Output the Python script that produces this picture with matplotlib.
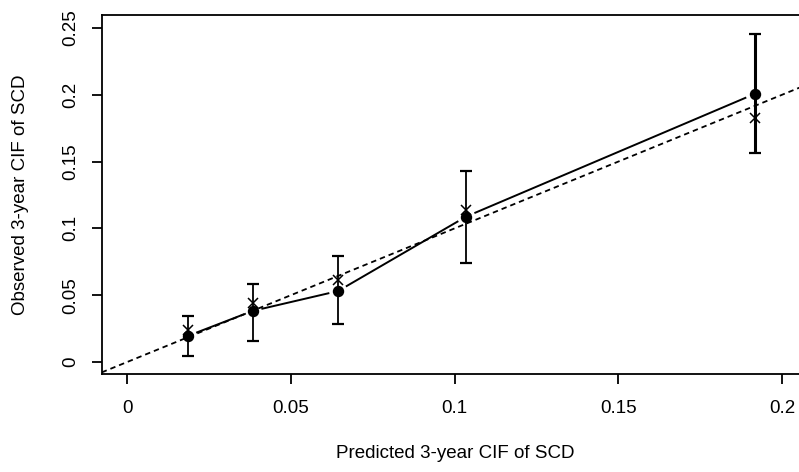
import numpy as np
import matplotlib
matplotlib.use("Agg")
import matplotlib.pyplot as plt

# Data
predicted = [0.0185, 0.0383, 0.0644, 0.1035, 0.1916]
observed = [0.0195, 0.0382, 0.0531, 0.1088, 0.2006]
cross_y = [0.0240, 0.0442, 0.0615, 0.1138, 0.1826]
ci_low = [0.0045, 0.0159, 0.0284, 0.0743, 0.1562]
ci_high = [0.0344, 0.0586, 0.0796, 0.1430, 0.2455]
xticks = [0, 0.05, 0.1, 0.15, 0.2]
xticklabels = ["0", "0.05", "0.1", "0.15", "0.2"]
yticks = [0, 0.05, 0.1, 0.15, 0.2, 0.25]
yticklabels = ["0", "0.05", "0.1", "0.15", "0.2", "0.25"]

plt.rcParams['font.family'] = ['Liberation Sans', 'DejaVu Sans']

W, H = 799, 472
fig = plt.figure(figsize=(W / 100, H / 100), dpi=100)
ax = fig.add_axes([101.7 / W, (H - 374) / H, (807.6 - 101.7) / W, (374 - 15) / H])
ax.set_xlim(-0.0078, 0.2078)
ax.set_ylim(-0.009, 0.2597)

for s in ax.spines.values():
    s.set_linewidth(1.3)
    s.set_color('black')

# identity line
ax.axline((0, 0), slope=1, color='black', lw=1.3, ls=(0, (3, 2.2)), zorder=2)

# error bars
for i, (x, lo, hi) in enumerate(zip(predicted, ci_low, ci_high)):
    lw = 2.2 if i == len(predicted) - 1 else 1.3
    ax.errorbar([x], [(lo + hi) / 2], yerr=[[(hi - lo) / 2], [(hi - lo) / 2]],
                fmt='none', ecolor='black', elinewidth=lw, capsize=4.5, capthick=1.6, zorder=3)

# solid line with gaps around points (type "b")
fig.canvas.draw()
pts = ax.transData.transform(np.column_stack([predicted, observed]))
gap = 9.0
inv = ax.transData.inverted()
for (p0, p1) in zip(pts[:-1], pts[1:]):
    d = p1 - p0
    L = np.hypot(*d)
    u = d / L
    a = p0 + u * gap
    b = p1 - u * gap
    da = inv.transform(np.vstack([a, b]))
    ax.plot(da[:, 0], da[:, 1], color='black', lw=1.4, solid_capstyle='butt', zorder=3)

ax.plot(predicted, observed, 'o', color='black', markersize=7.2, zorder=4)
ax.plot(predicted, cross_y, 'x', color='black', markersize=6.5, markeredgewidth=1.1, zorder=4)

ax.set_xticks(xticks)
ax.set_xticklabels(xticklabels)
ax.set_yticks(yticks)
ax.set_yticklabels(yticklabels, rotation=90, va='center')
ax.tick_params(axis='both', direction='out', length=7.5, width=1.3, labelsize=13.5, colors='black')
ax.tick_params(axis='x', pad=11)
ax.tick_params(axis='y', pad=9)

fig.text(455 / W, 1 - 454 / H, "Predicted 3-year CIF of SCD", ha='center', va='center', fontsize=13.5)
fig.text(21 / W, 1 - 195 / H, "Observed 3-year CIF of SCD", ha='center', va='center', fontsize=13.5, rotation=90)

fig.savefig("out.png", dpi=100)
